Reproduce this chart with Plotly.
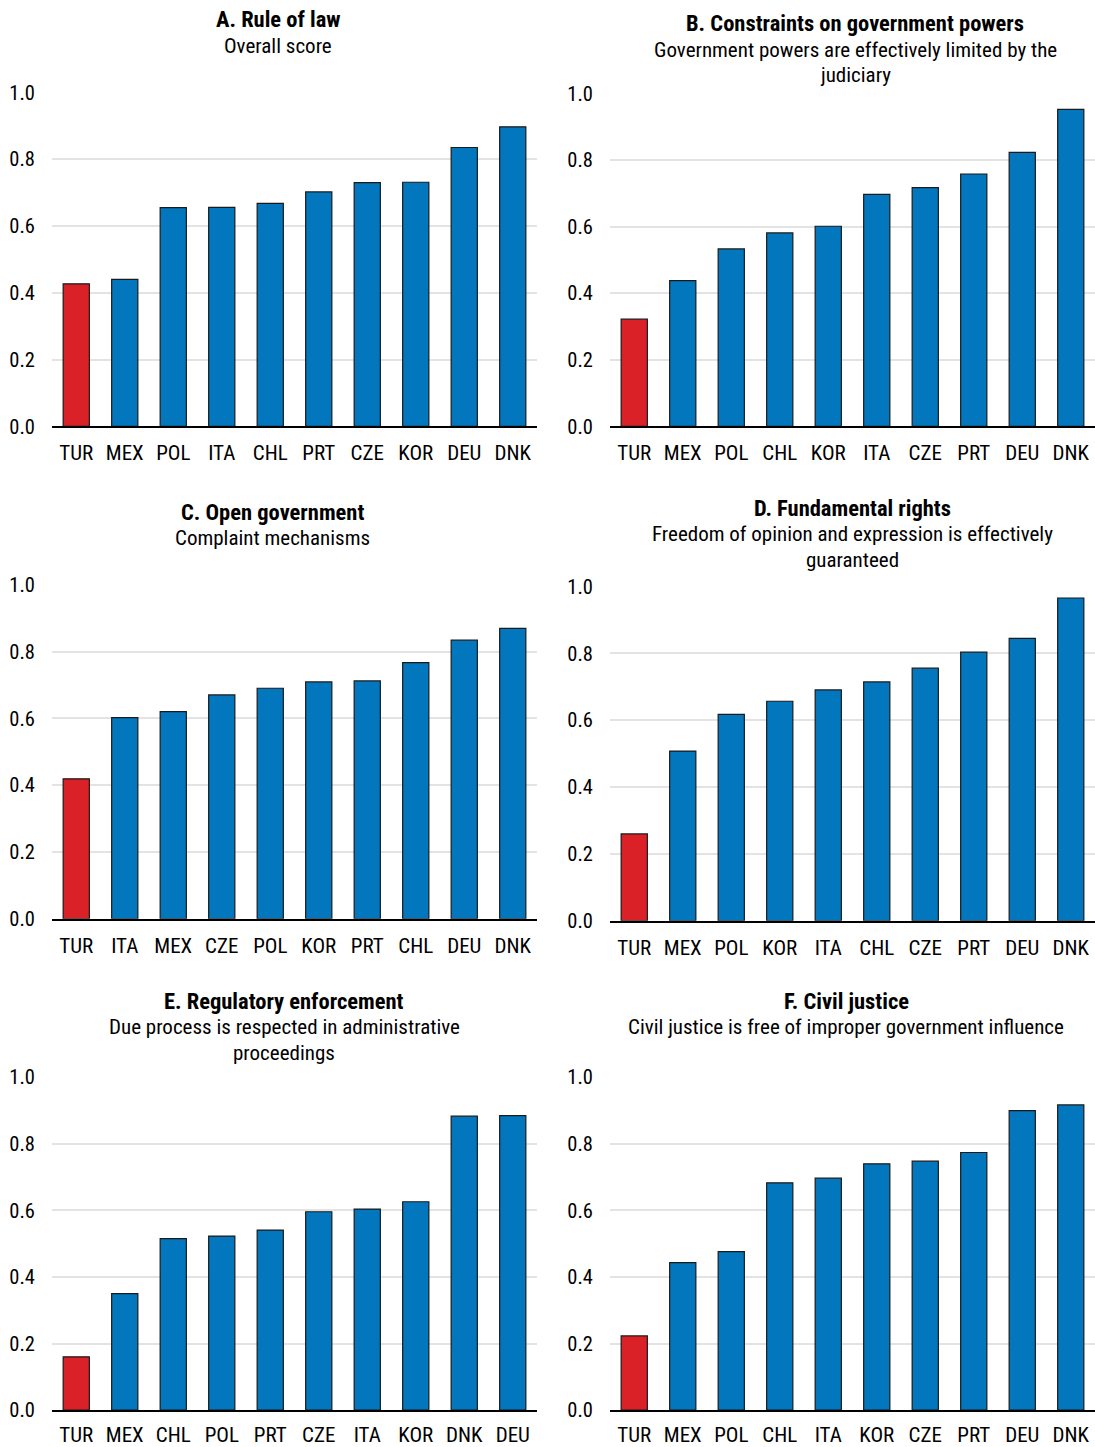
import plotly.graph_objects as go

# ---- data -------------------------------------------------------------
a_countries = ["TUR", "MEX", "POL", "ITA", "CHL", "PRT", "CZE", "KOR", "DEU", "DNK"]
a_values = [0.427, 0.440, 0.655, 0.656, 0.668, 0.702, 0.730, 0.731, 0.835, 0.897]

b_countries = ["TUR", "MEX", "POL", "CHL", "KOR", "ITA", "CZE", "PRT", "DEU", "DNK"]
b_values = [0.322, 0.438, 0.533, 0.581, 0.601, 0.697, 0.717, 0.758, 0.823, 0.952]

c_countries = ["TUR", "ITA", "MEX", "CZE", "POL", "KOR", "PRT", "CHL", "DEU", "DNK"]
c_values = [0.419, 0.602, 0.620, 0.670, 0.690, 0.709, 0.712, 0.767, 0.834, 0.869]

d_countries = ["TUR", "MEX", "POL", "KOR", "ITA", "CHL", "CZE", "PRT", "DEU", "DNK"]
d_values = [0.260, 0.508, 0.618, 0.657, 0.691, 0.715, 0.756, 0.804, 0.845, 0.966]

e_countries = ["TUR", "MEX", "CHL", "POL", "PRT", "CZE", "ITA", "KOR", "DNK", "DEU"]
e_values = [0.160, 0.350, 0.515, 0.523, 0.541, 0.596, 0.604, 0.626, 0.883, 0.885]

f_countries = ["TUR", "MEX", "POL", "CHL", "ITA", "KOR", "CZE", "PRT", "DEU", "DNK"]
f_values = [0.223, 0.443, 0.476, 0.683, 0.697, 0.740, 0.748, 0.774, 0.900, 0.917]

panel_titles = [
    "A. Rule of law",
    "B. Constraints on government powers",
    "C. Open government",
    "D. Fundamental rights",
    "E. Regulatory enforcement",
    "F. Civil justice",
]
panel_subtitles = [
    ["Overall score"],
    ["Government powers are effectively limited by the", "judiciary"],
    ["Complaint mechanisms"],
    ["Freedom of opinion and expression is effectively", "guaranteed"],
    ["Due process is respected in administrative", "proceedings"],
    ["Civil justice is free of improper government influence"],
]
y_ticks = [0.0, 0.2, 0.4, 0.6, 0.8, 1.0]
highlight = "TUR"

# ---- styling / layout -------------------------------------------------
W, H = 1095, 1447
FONT = "Liberation Sans Narrow, Arial Narrow, Roboto Condensed, Liberation Sans, sans-serif"
BLUE = "#0377BE"
RED = "#DA2128"
GRID = "#E3E3E3"

# pixel boxes of each plot area: (left, right, top, bottom)
boxes = [
    (52, 537, 82.0, 422.6),
    (610, 1095, 83.0, 422.6),
    (52, 537, 584.0, 924.7),
    (610, 1095, 586.0, 926.7),
    (52, 537, 1086.3, 1425.7),
    (610, 1095, 1086.3, 1425.7),
]
# gap between the x axis line and the category labels, per panel
x_standoff = [7, 7, 7, 7, 5, 5]
# title line centres: (x, [y of each line])
title_pos = [
    (278, [6.8, 34.3]),
    (855, [10.9, 38.3, 64.7]),
    (272, [509.9, 536.4]),
    (853, [505.9, 532.3, 558.8]),
    (284, [1009.0, 1035.5, 1061.9]),
    (846, [1009.0, 1035.5]),
]

panels = [
    (a_countries, a_values),
    (b_countries, b_values),
    (c_countries, c_values),
    (d_countries, d_values),
    (e_countries, e_values),
    (f_countries, f_values),
]

fig = go.Figure()
annotations = []
layout_axes = {}

for i, ((cats, vals), box) in enumerate(zip(panels, boxes)):
    n = i + 1
    xa = "x" if n == 1 else f"x{n}"
    ya = "y" if n == 1 else f"y{n}"
    colors = [RED if c == highlight else BLUE for c in cats]
    fig.add_trace(go.Bar(
        x=cats, y=vals, xaxis=xa, yaxis=ya,
        marker=dict(color=colors, line=dict(color="#1a1a1a", width=1.2)),
        showlegend=False,
    ))
    l, r, t, b = box
    xkey = "xaxis" if n == 1 else f"xaxis{n}"
    ykey = "yaxis" if n == 1 else f"yaxis{n}"
    layout_axes[xkey] = dict(
        domain=[l / W, r / W], anchor=ya,
        type="category", categoryorder="array", categoryarray=cats,
        showline=True, linecolor="#000000", linewidth=1.5,
        showgrid=False, ticks="", ticklabelstandoff=x_standoff[i],
        tickfont=dict(family=FONT, size=21, color="#000000"),
        fixedrange=True,
    )
    layout_axes[ykey] = dict(
        domain=[1 - b / H, 1 - t / H], anchor=xa,
        range=[0, 1.0], tickvals=y_ticks, tickformat=".1f",
        showgrid=True, gridcolor=GRID, gridwidth=1.5,
        zeroline=False, showline=False, ticks="", ticklabelstandoff=16,
        tickfont=dict(family=FONT, size=20.5, color="#000000"),
        fixedrange=True,
    )
    tx, tys = title_pos[i]
    lines = [(f"<b>{panel_titles[i]}</b>", 22.5)] + [(s, 21) for s in panel_subtitles[i]]
    for (line, fs), ty in zip(lines, tys):
        annotations.append(dict(
            text=line, x=tx / W, y=1 - ty / H, xref="paper", yref="paper",
            xanchor="center", yanchor="middle", showarrow=False,
            font=dict(family=FONT, size=fs, color="#000000"),
        ))

fig.update_layout(
    width=W, height=H,
    margin=dict(l=0, r=0, t=0, b=0),
    paper_bgcolor="white", plot_bgcolor="white",
    bargap=0.46,
    annotations=annotations,
    **layout_axes,
)

fig.write_html("out.html")
